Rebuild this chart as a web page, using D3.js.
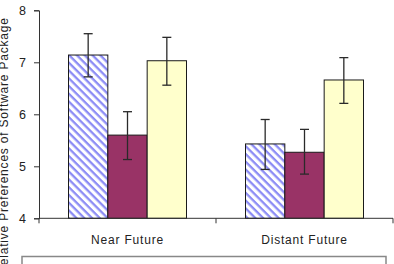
<!DOCTYPE html>
<html>
<head>
<meta charset="utf-8">
<script src="https://cdn.jsdelivr.net/npm/d3@7"></script>
<style>
  html, body { margin: 0; padding: 0; background: #fff; }
  svg { display: block; }
  text { font-family: "Liberation Sans", Arial, sans-serif; fill: #222; }
</style>
</head>
<body>
<svg id="chart" width="394" height="264"></svg>
<script>
const categories = ["Near Future", "Distant Future"];
const seriesNames = ["Series A", "Series B", "Series C"];
const seriesA = [7.14, 5.43];
const seriesB = [5.60, 5.27];
const seriesC = [7.03, 6.66];
const errUpperA = [7.55, 5.90];
const errLowerA = [6.72, 4.94];
const errUpperB = [6.05, 5.71];
const errLowerB = [5.13, 4.85];
const errUpperC = [7.48, 7.09];
const errLowerC = [6.56, 6.21];
const yTicks = [4, 5, 6, 7, 8];
const yTitle = "Relative Preferences of Software Package";

const values = [seriesA, seriesB, seriesC];
const uppers = [errUpperA, errUpperB, errUpperC];
const lowers = [errLowerA, errLowerB, errLowerC];

const svg = d3.select("#chart");
const mLeft = 39, mRight = 393, mTop = 10.3, mBottom = 218.3;

const y = d3.scaleLinear().domain([4, 8]).range([mBottom, mTop]);
const x0 = d3.scaleBand().domain(categories).range([mLeft, mRight]).paddingInner(0).paddingOuter(0);
const x1 = d3.scaleBand().domain(d3.range(3)).range([0, x0.bandwidth()]).paddingInner(0).paddingOuter(0.75);

// hatch pattern
const defs = svg.append("defs");
const pat = defs.append("pattern")
  .attr("id", "hatch").attr("patternUnits", "userSpaceOnUse")
  .attr("width", 5.5).attr("height", 5.5)
  .attr("patternTransform", "rotate(45)");
pat.append("rect").attr("width", 5.5).attr("height", 5.5).attr("fill", "#ffffff");
pat.append("rect").attr("x", 0).attr("y", 0).attr("width", 5.5).attr("height", 2.3).attr("fill", "#8c8cf5");

const fills = ["url(#hatch)", "#993366", "#ffffcc"];

// bars
const data = [];
categories.forEach((c, ci) => {
  values.forEach((s, si) => {
    data.push({c, si, v: s[ci], hi: uppers[si][ci], lo: lowers[si][ci]});
  });
});

svg.append("g").selectAll("rect").data(data).join("rect")
  .attr("x", d => x0(d.c) + x1(d.si))
  .attr("y", d => y(d.v))
  .attr("width", x1.bandwidth())
  .attr("height", d => y(4) - y(d.v))
  .attr("fill", d => fills[d.si])
  .attr("stroke", "#1a1a1a")
  .attr("stroke-width", 1);

// error bars
const eg = svg.append("g").attr("stroke", "#2a2a2a").attr("stroke-width", 1.3);
data.forEach(d => {
  const cx = x0(d.c) + x1(d.si) + x1.bandwidth() / 2;
  eg.append("line").attr("x1", cx).attr("x2", cx).attr("y1", y(d.hi)).attr("y2", y(d.lo));
  eg.append("line").attr("x1", cx - 4.5).attr("x2", cx + 4.5).attr("y1", y(d.hi)).attr("y2", y(d.hi));
  eg.append("line").attr("x1", cx - 4.5).attr("x2", cx + 4.5).attr("y1", y(d.lo)).attr("y2", y(d.lo));
});

// y axis
const yAxis = svg.append("g").attr("transform", `translate(${mLeft},0)`)
  .call(d3.axisLeft(y).tickValues(yTicks).tickFormat(d3.format("d")).tickSize(5).tickPadding(8));
yAxis.select(".domain").attr("stroke", "#333");
yAxis.selectAll(".tick line").attr("stroke", "#333");
yAxis.selectAll("text").attr("font-size", 12.5).attr("fill", "#222")
  .style("font-family", "'Liberation Sans', Arial, sans-serif");

// x axis
const xAxis = svg.append("g").attr("transform", `translate(0,${mBottom})`)
  .call(d3.axisBottom(x0).tickSize(0).tickPadding(17));
xAxis.select(".domain").attr("stroke", "#333").attr("d", `M${mLeft},0H${mRight}`);
xAxis.selectAll("text").attr("font-size", 12).attr("letter-spacing", "0.8px").attr("fill", "#222")
  .style("font-family", "'Liberation Sans', Arial, sans-serif");
const bounds = categories.map(c => x0(c)).concat([x0(categories[categories.length - 1]) + x0.bandwidth()]);
svg.append("g").selectAll("line").data(bounds).join("line")
  .attr("x1", d => d).attr("x2", d => d)
  .attr("y1", mBottom).attr("y2", mBottom + 5)
  .attr("stroke", "#333");

// y title (cut at the bottom-left edge, as in the reference)
svg.append("text")
  .attr("transform", `translate(8,146) rotate(-90)`)
  .attr("text-anchor", "middle")
  .attr("font-size", 12)
  .attr("letter-spacing", "0.8px")
  .text(yTitle);

// legend box (cut off at bottom)
svg.append("rect")
  .attr("x", 22).attr("y", 256.5).attr("width", 364).attr("height", 40)
  .attr("fill", "#fff").attr("stroke", "#888").attr("stroke-width", 1.5);
</script>
</body>
</html>
